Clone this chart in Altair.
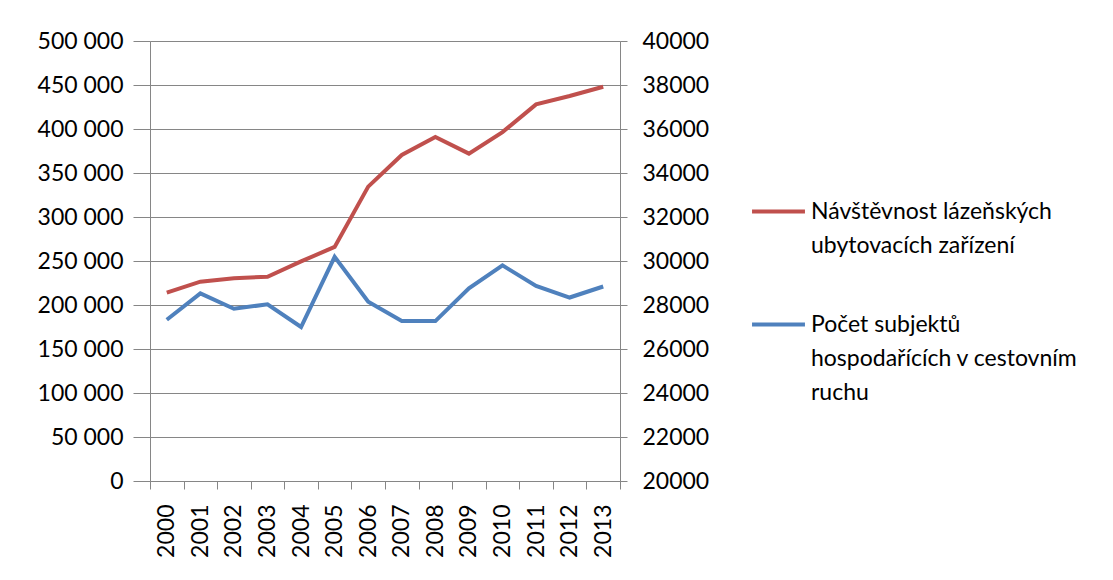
import altair as alt
import pandas as pd
import json

years = [str(y) for y in range(2000, 2014)]
spa_visits = [214000, 226500, 230500, 232000, 249500, 266000, 334500, 370500,
              391000, 372000, 396500, 428000, 437500, 448000]
tourism_subjects = [27330, 28530, 27830, 28030, 27000, 30190, 28150, 27270,
                    27270, 28760, 29800, 28870, 28340, 28840]

name_red = "Návštěvnost lázeňských ubytovacích zařízení"
name_blue = "Počet subjektů hospodařících v cestovním ruchu"
lines_red = ["Návštěvnost lázeňských", "ubytovacích zařízení"]
lines_blue = ["Počet subjektů", "hospodařících v cestovním", "ruchu"]
left_ticks = list(range(0, 500001, 50000))
right_ticks = list(range(20000, 40001, 2000))

df_red = pd.DataFrame({"year": years, "value": spa_visits, "series": name_red})
df_blue = pd.DataFrame({"year": years, "value": tourism_subjects, "series": name_blue})

FONT = "Lato"
GRID = "#868686"

label_expr = (f"datum.label == {json.dumps(name_red)} ? {json.dumps(lines_red)} : "
              f"{json.dumps(lines_blue)}")

color = alt.Color(
    "series:N",
    scale=alt.Scale(domain=[name_red, name_blue], range=["#C0504D", "#4F81BD"]),
    legend=alt.Legend(
        title=None, orient="none", legendX=600, legendY=142, padding=0,
        symbolType="stroke", symbolSize=2800, symbolStrokeWidth=4,
        labelExpr=label_expr, labelLimit=500, labelFont=FONT, labelFontSize=23,
        labelColor="#000000", labelOffset=4, rowPadding=38,
    ),
)

x = alt.X(
    "year:O",
    scale=alt.Scale(paddingInner=0, paddingOuter=0),
    axis=alt.Axis(
        title=None, labelAngle=270, tickBand="extent", tickSize=8, tickColor=GRID,
        domainColor=GRID, labelPadding=15, labelFont=FONT, labelFontSize=23,
        labelColor="#000000", grid=False,
    ),
)

red = alt.Chart(df_red).mark_line(strokeWidth=4).encode(
    x=x,
    y=alt.Y(
        "value:Q",
        scale=alt.Scale(domain=[0, 500000], nice=False, zero=True),
        axis=alt.Axis(
            title=None, values=left_ticks, tickSize=17, tickColor=GRID, domainColor=GRID,
            gridColor=GRID, grid=True, labelPadding=10, labelFont=FONT, labelFontSize=23,
            labelColor="#000000",
            labelExpr="replace(format(datum.value, ','), regexp(',', 'g'), ' ')",
        ),
    ),
    color=color,
)

blue = alt.Chart(df_blue).mark_line(strokeWidth=4).encode(
    x=x,
    y=alt.Y(
        "value:Q",
        scale=alt.Scale(domain=[20000, 40000], nice=False, zero=False),
        axis=alt.Axis(
            title=None, orient="right", values=right_ticks, format="d", tickSize=7,
            tickColor=GRID, domainColor=GRID, grid=False, labelPadding=15,
            labelFont=FONT, labelFontSize=23, labelColor="#000000",
        ),
    ),
    color=color,
)

chart = alt.layer(red, blue).resolve_scale(y="independent").properties(
    width=470, height=440,
    autosize=alt.AutoSizeParams(type="none"),
    padding={"left": 142, "top": 33, "right": 480, "bottom": 90},
).configure_view(stroke=None).configure(
    background="white",
    style={"guide-label": {"lineHeight": 34}},
)

chart.save("out.html", embed_options={"renderer": "svg", "actions": False})
